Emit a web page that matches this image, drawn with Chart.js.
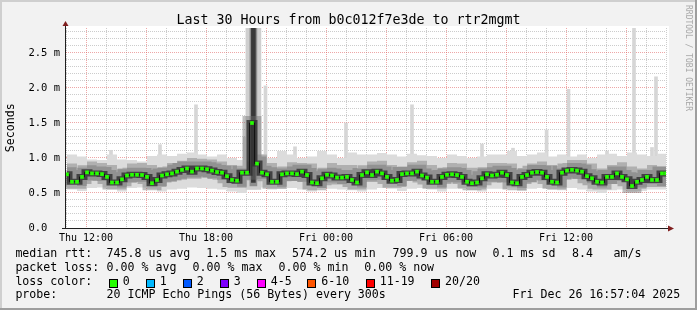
<!DOCTYPE html>
<html>
<head>
<meta charset="utf-8">
<script src="https://cdn.jsdelivr.net/npm/chart.js@4/dist/chart.umd.min.js"></script>
<style>
  html, body { margin: 0; padding: 0; background: #f2f2f2; }
  #frame { position: relative; width: 697px; height: 310px; background: #f2f2f2; overflow: hidden; }
  #frame canvas { position: absolute; left: 0; top: 0; }
  .edge { position: absolute; }
  .txt { position: absolute; font-family: "DejaVu Sans Mono", monospace; font-size: 11.6px; line-height: 1; color: #000; white-space: pre; }
  .box { position: absolute; width: 7px; height: 7px; border: 1px solid #000; }
</style>
</head>
<body>
<div id="frame">
  <canvas id="chart" width="697" height="310"></canvas>
  <div class="edge" style="left:0;top:0;width:697px;height:2px;background:#cfcfcf"></div>
  <div class="edge" style="left:0;top:0;width:2px;height:310px;background:#cfcfcf"></div>
  <div class="edge" style="right:0;top:0;width:2px;height:310px;background:#9e9e9e"></div>
  <div class="edge" style="left:0;bottom:0;width:697px;height:2px;background:#9e9e9e"></div>
  <div id="texts"></div>
</div>
<script>
// time axis is in hours counted from Thu 00:00, values are in milliseconds
const medianHours = [
  11, 11.25, 11.5, 11.75, 12, 12.25, 12.5, 12.75, 13, 13.25, 13.5, 13.75,
  14, 14.25, 14.5, 14.75, 15, 15.25, 15.5, 15.75, 16, 16.25, 16.5, 16.75,
  17, 17.25, 17.5, 17.75, 18, 18.25, 18.5, 18.75, 19, 19.25, 19.5, 19.75,
  20, 20.25, 20.5, 20.75, 21, 21.25, 21.5, 21.75, 22, 22.25, 22.5, 22.75,
  23, 23.25, 23.5, 23.75, 24, 24.25, 24.5, 24.75, 25, 25.25, 25.5, 25.75,
  26, 26.25, 26.5, 26.75, 27, 27.25, 27.5, 27.75, 28, 28.25, 28.5, 28.75,
  29, 29.25, 29.5, 29.75, 30, 30.25, 30.5, 30.75, 31, 31.25, 31.5, 31.75,
  32, 32.25, 32.5, 32.75, 33, 33.25, 33.5, 33.75, 34, 34.25, 34.5, 34.75,
  35, 35.25, 35.5, 35.75, 36, 36.25, 36.5, 36.75, 37, 37.25, 37.5, 37.75,
  38, 38.25, 38.5, 38.75, 39, 39.25, 39.5, 39.75, 40, 40.25, 40.5, 40.75, 40.95
];
const medianMs = [
  0.767, 0.66, 0.66, 0.73, 0.795, 0.78, 0.78, 0.77, 0.73, 0.65, 0.65, 0.695,
  0.75, 0.76, 0.76, 0.757, 0.73, 0.64, 0.686, 0.75, 0.767, 0.78, 0.805, 0.83,
  0.85, 0.805, 0.85, 0.85, 0.84, 0.82, 0.8, 0.79, 0.74, 0.686, 0.676, 0.79,
  0.79, 1.5, 0.92, 0.79, 0.767, 0.66, 0.66, 0.767, 0.78, 0.78, 0.77, 0.805,
  0.757, 0.65, 0.64, 0.71, 0.76, 0.75, 0.72, 0.72, 0.73, 0.686, 0.65, 0.757,
  0.795, 0.757, 0.805, 0.78, 0.73, 0.676, 0.686, 0.77, 0.78, 0.78, 0.805, 0.75,
  0.72, 0.66, 0.66, 0.73, 0.76, 0.767, 0.757, 0.73, 0.66, 0.64, 0.65, 0.71,
  0.767, 0.75, 0.76, 0.79, 0.757, 0.65, 0.64, 0.73, 0.757, 0.79, 0.8, 0.79,
  0.73, 0.66, 0.65, 0.79, 0.82, 0.83, 0.82, 0.805, 0.74, 0.71, 0.66, 0.65,
  0.73, 0.73, 0.78, 0.73, 0.695, 0.6, 0.66, 0.686, 0.73, 0.686, 0.686, 0.78, 0.78
];

const smokeHours = [
  11, 11.5, 12, 12.5, 13, 13.5, 14, 14.5, 15, 15.5,
  16, 16.5, 17, 17.5, 18, 18.5, 19, 19.5, 20, 20.5,
  21, 21.5, 22, 22.5, 23, 23.5, 24, 24.5, 25, 25.5,
  26, 26.5, 27, 27.5, 28, 28.5, 29, 29.5, 30, 30.5,
  31, 31.5, 32, 32.5, 33, 33.5, 34, 34.5, 35, 35.5,
  36, 36.5, 37, 37.5, 38, 38.5, 39, 39.5, 40, 40.5, 40.95
];
const smokeTopMs = [
  1.05, 1.02, 0.98, 0.97, 1.05, 0.98, 0.97, 0.95, 1.03, 1.05,
  1.03, 1.06, 1.08, 1.05, 1.02, 1.05, 1.0, 0.97, 1.0, 1.05,
  1.0, 1.1, 1.05, 1.0, 1.02, 1.1, 1.05, 1.0, 1.08, 1.05,
  1.05, 1.07, 1.05, 1.02, 1.06, 1.04, 1.03, 1.0, 1.05, 1.03,
  1.0, 1.02, 1.05, 1.05, 1.1, 1.03, 1.05, 1.08, 1.02, 1.05,
  1.02, 1.05, 1.0, 1.05, 1.06, 1.03, 1.08, 1.05, 1.03, 1.06, 1.05
];
const smokeBottomMs = [
  0.55, 0.53, 0.57, 0.58, 0.55, 0.52, 0.57, 0.58, 0.56, 0.52,
  0.55, 0.56, 0.58, 0.57, 0.56, 0.55, 0.52, 0.5, 0.55, 0.58,
  0.55, 0.56, 0.57, 0.55, 0.52, 0.57, 0.56, 0.55, 0.54, 0.52,
  0.55, 0.57, 0.56, 0.53, 0.56, 0.57, 0.55, 0.52, 0.56, 0.57,
  0.54, 0.52, 0.56, 0.56, 0.58, 0.53, 0.56, 0.57, 0.55, 0.54,
  0.57, 0.55, 0.52, 0.5, 0.54, 0.55, 0.52, 0.53, 0.55, 0.55, 0.56
];
const smokeMidTopMs = [
  0.92, 0.86, 0.95, 0.93, 0.9, 0.84, 0.92, 0.93, 0.9, 0.86,
  0.93, 0.96, 1.0, 0.99, 0.98, 0.95, 0.9, 0.85, 0.95, 1.05,
  0.93, 0.85, 0.94, 0.93, 0.92, 0.84, 0.93, 0.9, 0.9, 0.85,
  0.95, 0.96, 0.9, 0.87, 0.94, 0.96, 0.9, 0.85, 0.93, 0.92,
  0.86, 0.85, 0.93, 0.93, 0.92, 0.84, 0.92, 0.95, 0.9, 0.85,
  0.97, 0.97, 0.92, 0.85, 0.9, 0.94, 0.88, 0.85, 0.9, 0.88, 0.93
];
const smokeMidBottomMs = [
  0.66, 0.6, 0.68, 0.67, 0.64, 0.58, 0.65, 0.66, 0.64, 0.6,
  0.66, 0.69, 0.72, 0.72, 0.71, 0.69, 0.64, 0.59, 0.68, 0.7,
  0.66, 0.59, 0.67, 0.66, 0.65, 0.57, 0.65, 0.63, 0.64, 0.58,
  0.68, 0.69, 0.64, 0.6, 0.67, 0.69, 0.63, 0.58, 0.65, 0.65,
  0.59, 0.58, 0.66, 0.65, 0.65, 0.57, 0.65, 0.68, 0.63, 0.58,
  0.7, 0.7, 0.64, 0.58, 0.63, 0.67, 0.61, 0.58, 0.63, 0.6, 0.66
];

// single tall samples that stick out of the smoke
const spikeHours = [13.2, 15.65, 17.45, 19.875, 20.925, 22.4, 24.95, 28.25, 31.75, 33.3, 34.98, 36.075, 38.0, 39.35, 40.25, 40.45];
const spikeTopMs = [1.11, 1.19, 1.76, 1.3, 2.03, 1.16, 1.5, 1.76, 1.2, 1.14, 1.4, 1.98, 1.1, 2.9, 1.15, 2.16];
const spikeBaseMs = [0.9, 0.9, 0.9, 0.9, 0.9, 0.9, 0.9, 0.9, 0.9, 0.9, 0.9, 0.9, 0.9, 0.9, 0.9, 0.9];

// the burst around Thu 20:20
const burstHour = 20.32;
const burstTopMs = [2.9, 2.9, 2.9];
const burstBaseMs = [0.55, 0.6, 0.65];

const xTickHours = [12, 18, 24, 30, 36];
const xTickLabels = ["Thu 12:00", "Thu 18:00", "Fri 00:00", "Fri 06:00", "Fri 12:00"];

const lossLabels = ["0", "1", "2", "3", "4-5", "6-10", "11-19", "20/20"];
const lossColors = ["#26ff00", "#00b8ff", "#0059ff", "#7e00ff", "#ff00ff", "#ff5500", "#ff0000", "#a10000"];

function pts(xs, ys) {
  return xs.map((x, i) => ({ x: x, y: ys[i] }));
}

function band(data, color, fillTo, order) {
  return {
    type: "line", data: data, stepped: true, borderWidth: 0, borderColor: "transparent",
    backgroundColor: color, fill: fillTo, pointRadius: 0, order: order, clip: 0
  };
}

function bars(xs, lows, highs, width, color, order) {
  return {
    type: "bar", data: xs.map((x, i) => ({ x: x, y: [lows[i], highs[i]] })),
    backgroundColor: color, borderWidth: 0, barThickness: width, grouped: false, order: order, clip: 0
  };
}

const medianPts = pts(medianHours, medianMs);

const frameDeco = {
  id: "frameDeco",
  beforeDraw(chart) {
    const { ctx, chartArea: a } = chart;
    ctx.save();
    ctx.fillStyle = "#ffffff";
    ctx.fillRect(a.left, a.top - 2, a.right - a.left + 3, a.bottom - a.top + 2);
    ctx.restore();
  },
  afterDraw(chart) {
    const { ctx, chartArea: a } = chart;
    ctx.save();
    ctx.strokeStyle = "#1f1f1f";
    ctx.lineWidth = 1;
    ctx.beginPath();
    ctx.moveTo(a.left - 0.5, a.bottom + 0.5);
    ctx.lineTo(a.left - 0.5, a.top - 4);
    ctx.moveTo(a.left - 4, a.bottom + 0.5);
    ctx.lineTo(a.right + 3, a.bottom + 0.5);
    ctx.stroke();
    ctx.fillStyle = "#801f1f";
    ctx.beginPath();
    ctx.moveTo(a.left - 3.5, a.top - 2);
    ctx.lineTo(a.left + 2.5, a.top - 2);
    ctx.lineTo(a.left - 0.5, a.top - 7);
    ctx.closePath();
    ctx.fill();
    ctx.beginPath();
    ctx.moveTo(a.right + 2, a.bottom - 2.5);
    ctx.lineTo(a.right + 2, a.bottom + 3.5);
    ctx.lineTo(a.right + 8, a.bottom + 0.5);
    ctx.closePath();
    ctx.fill();
    ctx.restore();
  }
};

Chart.defaults.font.family = "'DejaVu Sans Mono', monospace";
Chart.defaults.color = "#000";

new Chart(document.getElementById("chart"), {
  type: "line",
  data: {
    datasets: [
      band(pts(smokeHours, smokeTopMs), "#dcdcdc", 1, 20),
      band(pts(smokeHours, smokeBottomMs), "#dcdcdc", false, 20),
      band(pts(smokeHours, smokeMidTopMs), "#b0b0b0", 3, 18),
      band(pts(smokeHours, smokeMidBottomMs), "#b0b0b0", false, 18),
      bars(spikeHours, spikeBaseMs, spikeTopMs, 3, "#d6d6d6", 21),
      bars([burstHour], [burstBaseMs[0]], [burstTopMs[0]], 15, "#cfcfcf", 19),
      bars([burstHour], [burstBaseMs[1]], [burstTopMs[1]], 7, "#8e8e8e", 17),
      bars([burstHour], [burstBaseMs[2]], [burstTopMs[2]], 4, "#383838", 16),
      {
        type: "line", data: medianPts, stepped: "middle", borderWidth: 14,
        borderColor: "rgba(110,110,110,0.45)", pointRadius: 0, fill: false, order: 15, clip: 0
      },
      {
        type: "line", data: medianPts, stepped: "middle", borderWidth: 6,
        borderColor: "rgba(45,45,45,0.8)", pointRadius: 0, fill: false, order: 14, clip: 0
      },
      {
        type: "line", data: medianPts, stepped: "middle", borderWidth: 1, borderColor: "#111",
        pointStyle: "rect", pointRadius: 2.6, pointBackgroundColor: "#26ff00",
        pointBorderWidth: 0, fill: false, order: 1, clip: 0
      }
    ]
  },
  options: {
    responsive: false,
    animation: false,
    devicePixelRatio: 1,
    layout: { padding: { top: 28, right: 31, left: 0, bottom: 0 } },
    plugins: { legend: { display: false }, tooltip: { enabled: false }, title: { display: false } },
    scales: {
      x: {
        type: "linear", min: 10.95, max: 40.95, offset: false,
        afterFit(scale) { scale.height = 82; },
        grid: {
          offset: false, drawTicks: false, lineWidth: 1,
          color: (c) => (Math.round(c.tick.value) % 3 === 0 ? "rgba(222,79,79,0.5)" : "rgba(143,143,143,0.45)")
        },
        border: { display: false, dash: [1, 1] },
        ticks: {
          stepSize: 1, includeBounds: false, autoSkip: false, maxRotation: 0, minRotation: 0,
          padding: 4, font: { size: 10 }, color: "#000",
          callback: (v) => {
            const i = xTickHours.indexOf(Math.round(v));
            return i >= 0 ? xTickLabels[i] : "";
          }
        }
      },
      y: {
        type: "linear", min: 0, max: 2.857,
        afterFit(scale) { scale.width = 66; },
        grid: {
          drawTicks: false, lineWidth: 1,
          color: (c) => (Math.round(c.tick.value * 10) % 5 === 0 ? "rgba(222,79,79,0.5)" : "rgba(143,143,143,0.45)")
        },
        border: { display: false, dash: [1, 1] },
        ticks: {
          stepSize: 0.1, includeBounds: false, autoSkip: false, padding: 6,
          font: { size: 10.5 }, color: "#000",
          callback: (v) => {
            const tenth = Math.round(v * 10);
            if (tenth % 5 !== 0) return "";
            return tenth === 0 ? "0.0  " : (tenth / 10).toFixed(1) + " m";
          }
        }
      }
    }
  },
  plugins: [frameDeco]
});

// title, axis caption and legend lines
const texts = document.getElementById("texts");
function put(left, top, str, extra) {
  const d = document.createElement("div");
  d.className = "txt";
  d.textContent = str;
  d.style.left = left + "px";
  d.style.top = top + "px";
  if (extra) Object.assign(d.style, extra);
  texts.appendChild(d);
  return d;
}
put(0, 12.8, "Last 30 Hours from b0c012f7e3de to rtr2mgmt", { width: "697px", textAlign: "center", fontSize: "13.3px" });
put(-19, 121.6, "Seconds", { width: "60px", height: "11.6px", textAlign: "center", transform: "rotate(-90deg)" });
put(633, 54, "RRDTOOL / TOBI OETIKER", { width: "110px", height: "8px", textAlign: "center", fontSize: "8px", color: "#a8a8a8", transform: "rotate(90deg)" });

const legendRows = [
  [[15.4, "median rtt:"], [106.6, "745.8 us avg"], [206.3, "1.5 ms max"], [292, "574.2 us min"], [392.6, "799.9 us now"], [492.6, "0.1 ms sd"], [572, "8.4"], [613.6, "am/s"]],
  [[15.4, "packet loss:"], [106.6, "0.00 % avg"], [192.6, "0.00 % max"], [278.6, "0.00 % min"], [364.3, "0.00 % now"]],
  [[15.4, "loss color:"]],
  [[15.4, "probe:"], [106.6, "20 ICMP Echo Pings (56 Bytes) every 300s"], [512.6, "Fri Dec 26 16:57:04 2025"]]
];
const rowTops = [247.8, 261.5, 275.8, 289.2];
legendRows.forEach((row, r) => row.forEach(([x, s]) => put(x, rowTops[r], s)));

const lossBoxX = [108.7, 145.7, 182.7, 219.7, 256.7, 307.3, 365.7, 431];
lossLabels.forEach((lab, i) => {
  const b = document.createElement("div");
  b.className = "box";
  b.style.left = lossBoxX[i] + "px";
  b.style.top = "279px";
  b.style.background = lossColors[i];
  texts.appendChild(b);
  put(lossBoxX[i] + 14, rowTops[2], lab);
});
</script>
</body>
</html>
